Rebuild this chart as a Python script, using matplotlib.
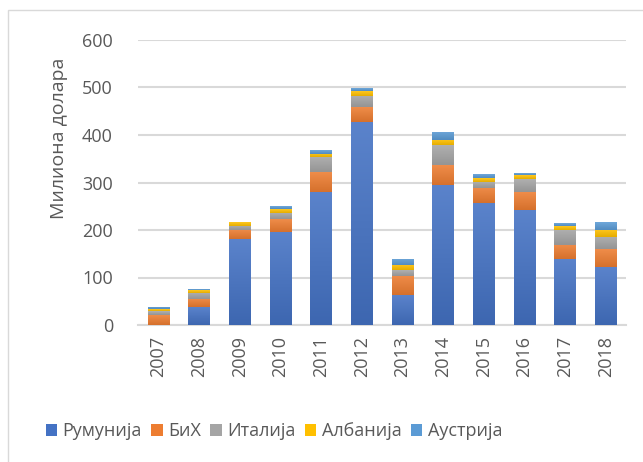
import numpy as np
import matplotlib.pyplot as plt
from matplotlib.patches import Rectangle
from matplotlib.colors import LinearSegmentedColormap, to_rgb

# Страни инвеститори по годинама (милиона долара), очитано са графикона
years = ["2007", "2008", "2009", "2010", "2011", "2012",
         "2013", "2014", "2015", "2016", "2017", "2018"]
rumunija = [0, 37, 181, 196, 281, 428, 63, 295, 257, 243, 139, 122]
bih = [21, 17, 19, 27, 41, 30, 41, 42, 32, 37, 30, 37]
italija = [8, 14, 9, 13, 32, 25, 11, 42, 13, 27, 32, 27]
albanija = [4, 6, 8, 8, 7, 9, 12, 11, 8, 8, 8, 15]
austrija = [5, 1, 0, 6, 8, 6, 13, 17, 8, 4, 6, 15]

series = [("Румунија", rumunija, "#4472C4"),
          ("БиХ", bih, "#ED7D31"),
          ("Италија", italija, "#A5A5A5"),
          ("Албанија", albanija, "#FFC000"),
          ("Аустрија", austrija, "#5B9BD5")]

plt.rcParams['font.family'] = ['Open Sans', 'DejaVu Sans']
text_col = "#595959"
fs = 13


def shade(col, f):
    r, g, b = to_rgb(col)
    if f > 0:
        return (r + (1 - r) * f, g + (1 - g) * f, b + (1 - b) * f)
    return (r * (1 + f), g * (1 + f), b * (1 + f))


fig = plt.figure(figsize=(6.43, 4.62), dpi=100)
ax = fig.add_axes([138 / 643, 1 - 325 / 462, 488 / 643, 285 / 462])

x = np.arange(len(years))
bottom = np.zeros(len(years))
grad = np.linspace(1, 0, 64).reshape(-1, 1)
for name, vals, col in series:
    bars = ax.bar(x, vals, width=0.52, bottom=bottom, color=col, label=name, zorder=3)
    cmap = LinearSegmentedColormap.from_list(name, [shade(col, -0.1), shade(col, 0.12)])
    # excel-style gradient fill on each segment
    for p in bars.patches:
        if p.get_height() <= 0:
            continue
        x0, y0 = p.get_x(), p.get_y()
        im = ax.imshow(grad, extent=[x0, x0 + p.get_width(), y0, y0 + p.get_height()],
                       cmap=cmap, aspect="auto", zorder=3.5, interpolation="bilinear")
        im.set_clip_path(p)
    bottom += np.array(vals)

ax.set_xlim(-0.5, len(years) - 0.5)
ax.set_ylim(0, 600)
ax.set_yticks(range(0, 601, 100))
ax.set_xticks(x)
ax.set_xticklabels(years, rotation=90)
ax.tick_params(axis='both', length=0, labelsize=fs, labelcolor=text_col)
ax.tick_params(axis='y', pad=18)
ax.tick_params(axis='x', pad=8)
ax.grid(axis='y', color="#D9D9D9", linewidth=1.5, zorder=0)
for s in ["top", "right", "left"]:
    ax.spines[s].set_visible(False)
ax.spines["bottom"].set_color("#D9D9D9")
ax.spines["bottom"].set_linewidth(1.5)

ax.set_ylabel("Милиона долара", fontsize=14, color=text_col)
ax.yaxis.set_label_coords(-0.143, 0.655)

fig.legend(loc="center", bbox_to_anchor=(0.426, 1 - 431 / 462), ncol=5,
           frameon=False, fontsize=fs, labelcolor=text_col,
           handlelength=0.65, handleheight=0.65, handletextpad=0.3,
           columnspacing=0.5)

fig.patches.append(Rectangle((8 / 643, -0.01), 1.0, 1 - 10 / 462 + 0.01,
                             transform=fig.transFigure, fill=False,
                             edgecolor="#D9D9D9", linewidth=1))

fig.savefig("out.png", dpi=100)
